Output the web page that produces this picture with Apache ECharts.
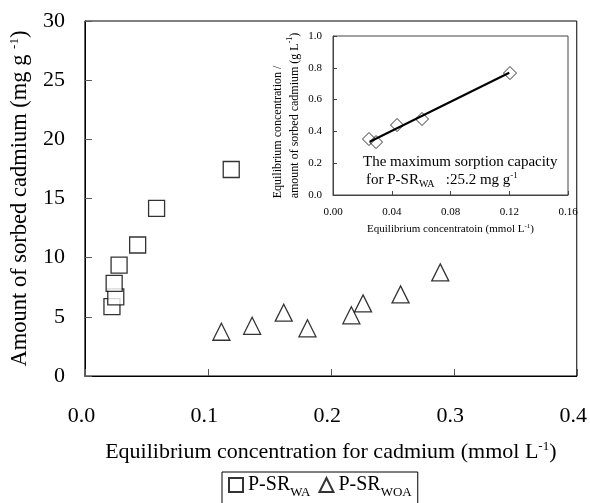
<!DOCTYPE html>
<html><head><meta charset="utf-8">
<script src="https://cdn.jsdelivr.net/npm/echarts@6/dist/echarts.min.js"></script>
<style>html,body{margin:0;padding:0;background:#fff}#c{width:590px;height:503px}</style>
</head><body><div id="c"></div>
<script>
// Main chart data
const waX = [0.0220, 0.0251, 0.0238, 0.0278, 0.0429, 0.0583, 0.1190];
const waY = [5.87, 6.69, 7.82, 9.37, 11.07, 14.17, 17.45];
const woaX = [0.111, 0.136, 0.1617, 0.181, 0.2167, 0.2262, 0.2567, 0.289];
const woaY = [3.74, 4.24, 5.35, 4.03, 5.13, 6.14, 6.90, 8.76];
// Inset (Langmuir linear plot)
const insetX = [0.0245, 0.0293, 0.0436, 0.0606, 0.1205];
const insetY = [0.352, 0.333, 0.440, 0.478, 0.767];
const fitX = [0.025, 0.120];
const fitY = [0.335, 0.769];
// Tick labels
const mainXTicks = ['0.0', '0.1', '0.2', '0.3', '0.4'];
const mainYTicks = ['0', '5', '10', '15', '20', '25', '30'];
const insetXTicks = ['0.00', '0.04', '0.08', '0.12', '0.16'];
const insetYTicks = ['0.0', '0.2', '0.4', '0.6', '0.8', '1.0'];
const seriesNames = ['P-SR WA', 'P-SR WOA'];

const zip = (a, b) => a.map((v, i) => [v, b[i]]);
const FF = "'Liberation Serif', 'Times New Roman', serif";
const tickFmt = (arr, step) => (v) => arr[Math.round(v / step)];

const chart = echarts.init(document.getElementById('c'), null, {renderer: 'canvas'});
chart.setOption({
  backgroundColor: '#fff',
  animation: false,
  textStyle: {fontFamily: FF, color: '#000'},
  grid: [
    {left: 83, top: 21, width: 494, height: 355, show: true, borderColor: '#000', borderWidth: 1, backgroundColor: 'transparent'},
    {left: 333, top: 36, width: 235, height: 159, show: true, borderColor: '#444', borderWidth: 1, backgroundColor: '#fff'}
  ],
  xAxis: [
    {
      gridIndex: 0, type: 'value', min: 0, max: 0.4, interval: 0.1,
      axisLine: {lineStyle: {color: '#000', width: 1}},
      axisTick: {inside: true, length: 7, lineStyle: {color: '#555'}},
      splitLine: {show: false},
      axisLabel: {fontFamily: FF, fontSize: 22, color: '#000', margin: 29, padding: [0, 7, 0, 0],
        formatter: tickFmt(mainXTicks, 0.1)},
      name: 'Equilibrium concentration for cadmium (mmol L{sup|-1})',
      nameLocation: 'middle', nameGap: 64,
      nameTextStyle: {fontFamily: FF, fontSize: 22, color: '#000', lineHeight: 24,
        rich: {sup: {fontFamily: FF, fontSize: 13, color: '#000', verticalAlign: 'top', lineHeight: 24}}}
    },
    {
      gridIndex: 1, type: 'value', min: 0, max: 0.16, interval: 0.04,
      axisLine: {lineStyle: {color: '#444', width: 1}},
      axisTick: {inside: true, length: 4, lineStyle: {color: '#444'}},
      splitLine: {show: false},
      axisLabel: {fontFamily: FF, fontSize: 11, color: '#000', margin: 12, formatter: tickFmt(insetXTicks, 0.04)},
      name: 'Equilibrium concentratoin (mmol L{sup|-1})',
      nameLocation: 'middle', nameGap: 28,
      nameTextStyle: {fontFamily: FF, fontSize: 11, color: '#000', lineHeight: 13,
        rich: {sup: {fontFamily: FF, fontSize: 7, color: '#000', verticalAlign: 'top', lineHeight: 13}}}
    }
  ],
  yAxis: [
    {
      gridIndex: 0, type: 'value', min: 0, max: 30, interval: 5,
      axisLine: {lineStyle: {color: '#000', width: 1}},
      axisTick: {inside: true, length: 7, lineStyle: {color: '#555'}},
      splitLine: {show: false},
      axisLabel: {fontFamily: FF, fontSize: 22, color: '#000', margin: 20, formatter: tickFmt(mainYTicks, 5)},
      name: 'Amount of sorbed cadmium (mg g {sup|-1})',
      nameLocation: 'middle', nameGap: 47,
      nameTextStyle: {fontFamily: FF, fontSize: 22.5, color: '#000', lineHeight: 24,
        rich: {sup: {fontFamily: FF, fontSize: 13, color: '#000', verticalAlign: 'top', lineHeight: 24}}}
    },
    {
      gridIndex: 1, type: 'value', min: 0, max: 1, interval: 0.2,
      axisLine: {lineStyle: {color: '#444', width: 1}},
      axisTick: {inside: true, length: 4, lineStyle: {color: '#444'}},
      splitLine: {show: false},
      axisLabel: {fontFamily: FF, fontSize: 11, color: '#000', margin: 11, formatter: tickFmt(insetYTicks, 0.2)},
      name: '{l|Equilibrium concentration /}\n{l|amount of sorbed cadmium (g L}{s|-1}{l|)}',
      nameLocation: 'middle', nameGap: 30,
      nameTextStyle: {fontFamily: FF, fontSize: 12, color: '#000', lineHeight: 17,
        rich: {
          l: {fontFamily: FF, fontSize: 12, color: '#000', align: 'left', lineHeight: 17},
          s: {fontFamily: FF, fontSize: 8, color: '#000', align: 'left', verticalAlign: 'top', lineHeight: 17}
        }}
    }
  ],
  legend: {
    data: seriesNames,
    left: 222, top: 472,
    orient: 'horizontal',
    padding: [3, 6, 30, 6],
    itemGap: 8,
    itemWidth: 14, itemHeight: 14,
    borderColor: '#000', borderWidth: 1,
    backgroundColor: '#fff',
    formatter: (n) => { const p = n.split(' '); return '{m|' + p[0] + '}{s|' + p[1] + '}'; },
    textStyle: {fontFamily: FF, fontSize: 20, color: '#000',
      rich: {
        m: {fontFamily: FF, fontSize: 20, color: '#000', lineHeight: 22},
        s: {fontFamily: FF, fontSize: 13, color: '#000', verticalAlign: 'bottom', lineHeight: 22, padding: [0, 0, -3, 0]}
      }}
  },
  graphic: [
    {type: 'text', x: 363, y: 162, z: 100,
      style: {text: 'The maximum sorption capacity', font: '15px ' + FF, fill: '#000', verticalAlign: 'middle'}},
    {type: 'text', x: 366, y: 180, z: 100,
      style: {text: '{n|for P-SR}{s|WA}{n|   :25.2 mg g}{p|-1}', verticalAlign: 'middle', fill: '#000',
        font: '15px ' + FF,
        rich: {
          n: {fontFamily: FF, fontSize: 15, fill: '#000', lineHeight: 18},
          s: {fontFamily: FF, fontSize: 10, fill: '#000', verticalAlign: 'bottom', lineHeight: 18},
          p: {fontFamily: FF, fontSize: 9, fill: '#000', verticalAlign: 'top', lineHeight: 18}
        }}}
  ],
  series: [
    {
      name: seriesNames[0], type: 'scatter', xAxisIndex: 0, yAxisIndex: 0,
      data: zip(waX, waY), symbol: 'rect', symbolSize: 16,
      itemStyle: {color: '#fff', borderColor: '#000', borderWidth: 1.3}
    },
    {
      name: seriesNames[1], type: 'scatter', xAxisIndex: 0, yAxisIndex: 0,
      data: zip(woaX, woaY), symbol: 'triangle', symbolSize: 17,
      itemStyle: {color: '#fff', borderColor: '#000', borderWidth: 1.3}
    },
    {
      name: 'fit', type: 'line', xAxisIndex: 1, yAxisIndex: 1,
      data: zip(fitX, fitY), symbol: 'none', z: 3,
      lineStyle: {color: '#000', width: 2}
    },
    {
      name: 'inset', type: 'scatter', xAxisIndex: 1, yAxisIndex: 1,
      data: zip(insetX, insetY), symbol: 'diamond', symbolSize: 13, z: 4,
      itemStyle: {color: 'rgba(255,255,255,0)', borderColor: '#000', borderWidth: 1}
    }
  ]
});
</script>
</body></html>
